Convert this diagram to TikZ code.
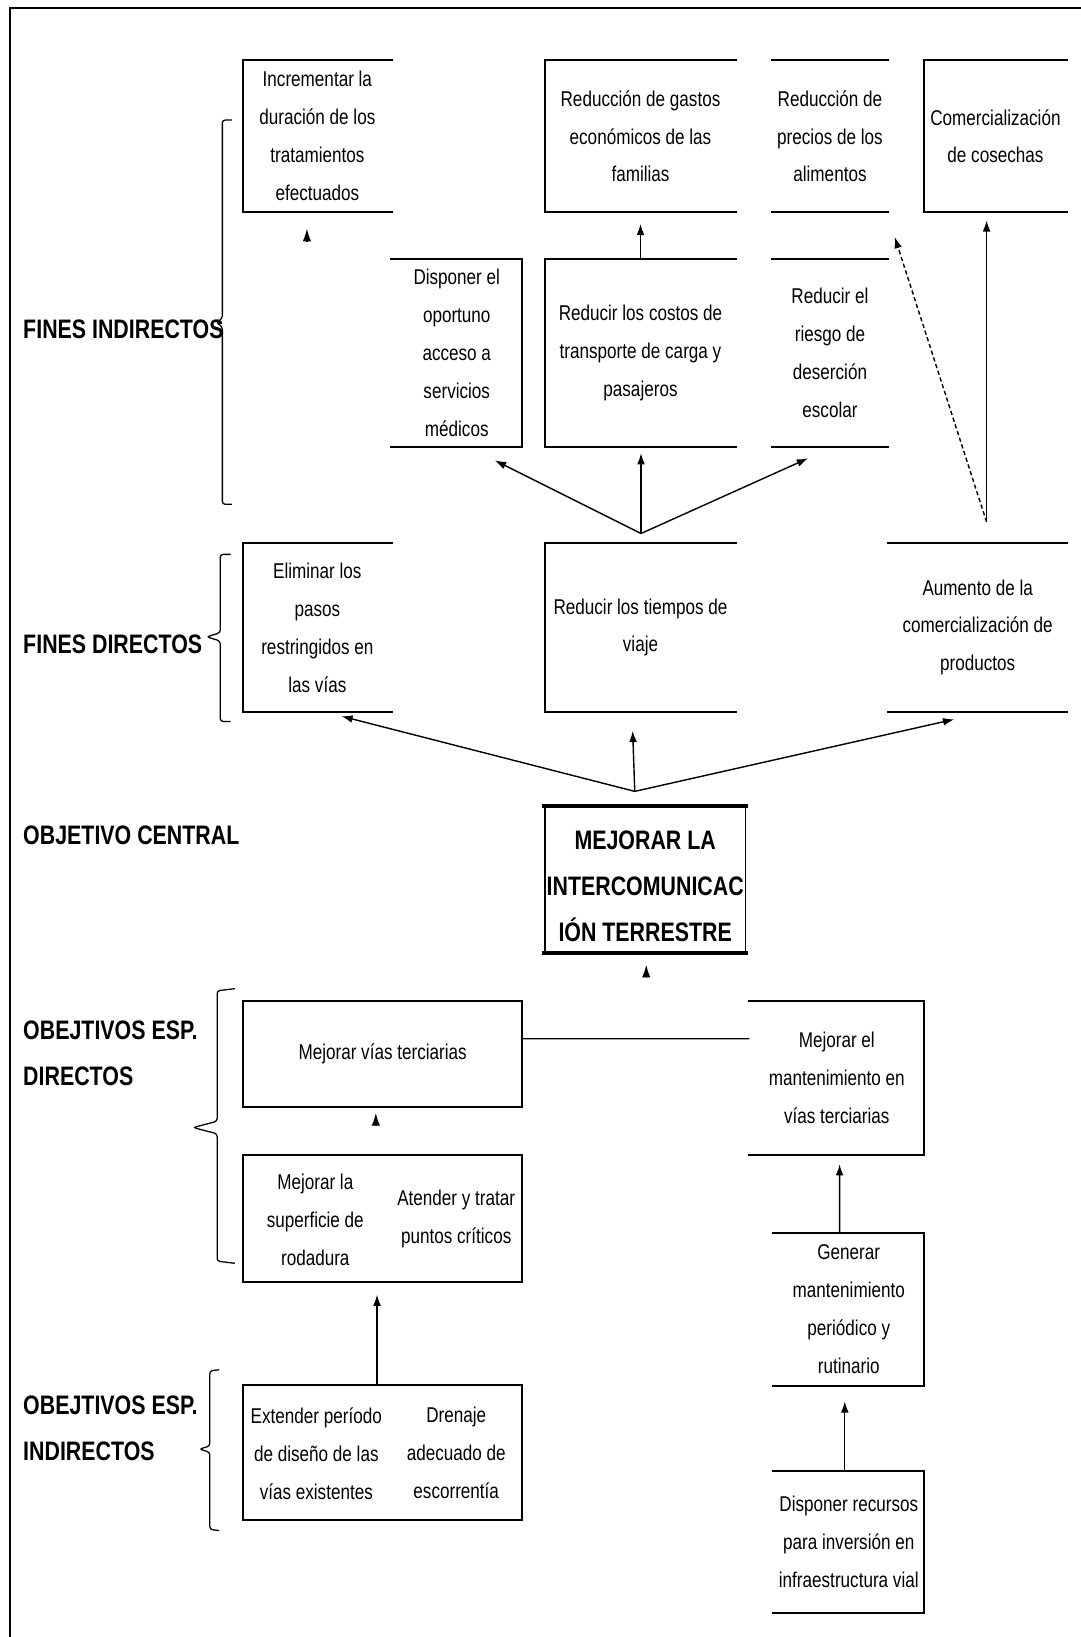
\documentclass[tikz,border=0pt]{standalone}
\usepackage{fontspec}
\setmainfont{Liberation Sans}[FakeStretch=0.8]
\usetikzlibrary{arrows.meta}

\begin{document}
\begin{tikzpicture}[
        x=0.0261cm, y=-0.0261cm,
        texto/.style={font=\fontsize{15.2}{27}\selectfont, align=center, inner sep=0pt},
        rotulo/.style={font=\bfseries\fontsize{19}{33}\selectfont, align=left, anchor=west, inner sep=0pt},
        borde/.style={draw, line width=1.3pt, line cap=rect},
        grueso/.style={draw, line width=2.6pt, line cap=rect},
        caja/.style 2 args={texto, minimum width=#1, minimum height=#2},
        tb/.style={append after command={
            (\tikzlastnode.north west) edge[borde] (\tikzlastnode.north east)
            (\tikzlastnode.south west) edge[borde] (\tikzlastnode.south east)}},
        tbi/.style={tb, append after command={
            (\tikzlastnode.north west) edge[borde] (\tikzlastnode.south west)}},
        tbd/.style={tb, append after command={
            (\tikzlastnode.north east) edge[borde] (\tikzlastnode.south east)}},
        cerrada/.style={borde},
        flecha/.style={-{Latex[length=8pt,width=5.5pt]}, line width=1pt},
        punta/.style={-{Latex[length=9pt,width=6pt]}, line width=1pt},
        llave/.style={line width=0.9pt, rounded corners=2pt},
        ]
    \useasboundingbox (0,0) rectangle (1035,1568);
    \fill[white] (0,0) rectangle (1035,1568);
    \draw[line width=1.5pt] (10,1568) -- (10,8) -- (1035,8);

    % rotulos de la izquierda
    \node (fi) [rotulo] at (22,315) {FINES INDIRECTOS};
    \node (fd) [rotulo] at (22,617) {FINES DIRECTOS};
    \node (oc) [rotulo] at (22,800) {OBJETIVO CENTRAL};
    \node (oed) [rotulo] at (22,1009) {OBEJTIVOS ESP.\\DIRECTOS};
    \node (oei) [rotulo] at (22,1368) {OBEJTIVOS ESP.\\INDIRECTOS};
    \draw[llave] (222,115) -- (213,115) -- (213,305) -- (207,309) -- (213,313) -- (213,483) -- (222,483);
    \draw[llave] (221,531) -- (211,531) -- (211,606) -- (198,610) -- (211,614) -- (211,691) -- (221,691);
    \draw[llave] (225,947) -- (208,949) -- (208,1074) -- (185,1080) -- (208,1086) -- (208,1208) -- (225,1210);
    \draw[llave] (210,1312) -- (201,1313) -- (201,1385) -- (191,1388) -- (201,1391) -- (201,1465) -- (210,1466);

    % fines indirectos
    \node (inc) [caja={3.706cm}{3.785cm}, tbi] at (304,130.5) {Incrementar la\\duración de los\\tratamientos\\efectuados};
    \node (gastos) [caja={4.776cm}{3.785cm}, tbi] at (613.5,130.5) {Reducción de gastos\\económicos de las\\familias};
    \node (precios) [caja={2.871cm}{3.785cm}, tb] at (795,130.5) {Reducción de\\precios de los\\alimentos};
    \node (comer) [caja={3.576cm}{3.785cm}, tbi] at (953.5,130.5) {Comercialización\\de cosechas};
    \node (disp) [caja={3.263cm}{4.698cm}, tbd] at (437.5,338) {Disponer el\\oportuno\\acceso a\\servicios\\médicos};
    \node (costos) [caja={4.776cm}{4.698cm}, tbi] at (613.5,338) {Reducir los costos de\\transporte de carga y\\pasajeros};
    \node (riesgo) [caja={2.871cm}{4.698cm}, tb] at (795,338) {Reducir el\\riesgo de\\deserción\\escolar};

    % fines directos
    \node (elim) [caja={3.706cm}{4.228cm}, tbi] at (304,601) {Eliminar los\\pasos\\restringidos en\\las vías};
    \node (tiempos) [caja={4.776cm}{4.228cm}, tbi] at (613.5,601) {Reducir los tiempos de\\viaje};
    \node (aumento) [caja={4.463cm}{4.228cm}, tb] at (936.5,601) {Aumento de la\\comercialización de\\productos};

    % objetivo central
    \node (central) [caja={5.011cm}{3.628cm}, borde,
        append after command={(\tikzlastnode.north west) edge[grueso] (\tikzlastnode.north east)
                              (\tikzlastnode.south west) edge[grueso] (\tikzlastnode.south east)}]
        at (618,842.5) {};
    \node (centralt) [texto, font=\bfseries\fontsize{19}{33}\selectfont] at (618,849) {MEJORAR LA\\INTERCOMUNICAC\\IÓN TERRESTRE};

    % objetivos especificos
    \node (vias) [caja={6.969cm}{2.636cm}, cerrada] at (366.5,1009.5) {Mejorar vías terciarias};
    \node (mant) [caja={4.359cm}{3.837cm}, tbd] at (801.5,1032.5) {Mejorar el\\mantenimiento en\\vías terciarias};
    \node (sup) [caja={6.969cm}{3.184cm}, cerrada] at (366.5,1167) {};
    \node (sup1) [texto] at (302,1168) {Mejorar la\\superficie de\\rodadura};
    \node (sup2) [texto] at (437,1168) {Atender y tratar\\puntos críticos};
    \node (ext) [caja={6.969cm}{3.367cm}, cerrada] at (366.5,1391.5) {};
    \node (ext1) [texto] at (303,1392) {Extender período\\de diseño de las\\vías existentes};
    \node (ext2) [texto] at (437,1392) {Drenaje\\adecuado de\\escorrentía};
    \node (gen) [caja={3.758cm}{3.811cm}, tbd] at (813,1254) {Generar\\mantenimiento\\periódico y\\rutinario};
    \node (rec) [caja={3.758cm}{3.550cm}, tbd] at (813,1477) {Disponer recursos\\para inversión en\\infraestructura vial};

    % puntos de las flechas
    \coordinate (v1) at (614,511);
    \coordinate (t1) at (474,441);
    \coordinate (t2) at (614,434);
    \coordinate (t3) at (774,439);
    \coordinate (v2) at (945,500);
    \coordinate (t4) at (945,211);
    \coordinate (t5) at (857,227);
    \coordinate (v3) at (608,758);
    \coordinate (t6) at (327,686);
    \coordinate (t7) at (606,700);
    \coordinate (t8) at (914,689);
    \coordinate (p1) at (294,231);
    \coordinate (q1) at (294,219);
    \coordinate (p2) at (619,936);
    \coordinate (q2) at (619,924);
    \coordinate (p3) at (360,1078);
    \coordinate (q3) at (360,1066);

    % flechas
    \draw[flecha] (costos.north) -- ([yshift=-0.29cm]gastos.south);
    \foreach \t in {t1,t2,t3}
        \draw[flecha] (v1) -- (\t);
    \draw[flecha] (v2) -- (t4);
    \draw[flecha, dash pattern=on 3pt off 2pt] (v2) -- (t5);
    \foreach \t in {t6,t7,t8}
        \draw[flecha] (v3) -- (\t);
    \foreach \i in {1,2,3}
        \draw[punta] (p\i) -- (q\i);
    \draw[line width=1pt] ([yshift=0.38cm]vias.east) -- ([yshift=0.98cm]mant.west);
    \draw[flecha] ([xshift=-0.14cm]ext.north) -- ([xshift=-0.14cm,yshift=-0.29cm]sup.south);
    \draw[flecha] ([xshift=-0.23cm]gen.north) -- ([xshift=0.07cm,yshift=-0.23cm]mant.south);
    \draw[flecha] ([xshift=-0.1cm]rec.north) -- ([xshift=-0.1cm,yshift=-0.39cm]gen.south);
\end{tikzpicture}
\end{document}
